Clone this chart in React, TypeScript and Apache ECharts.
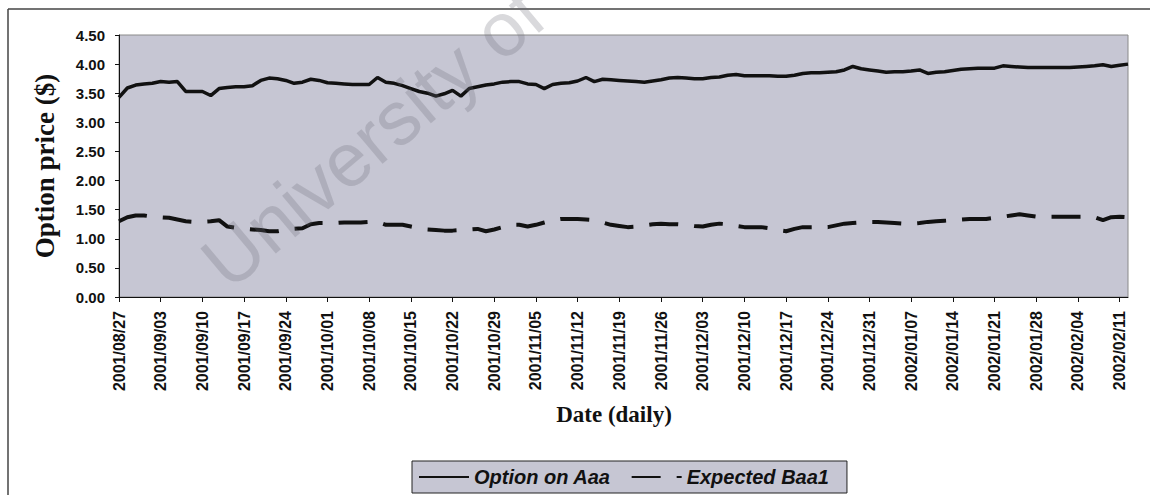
import React, { useEffect, useRef } from "react";
import * as echarts from "echarts";

// Weekday trading dates 2001/08/27 .. 2002/02/12
const START_DATE = "2001-08-27";
const END_DATE = "2002-02-12";

const optionOnAaa: number[] = [
  3.43, 3.59, 3.64, 3.66, 3.67, 3.70, 3.69, 3.70, 3.53, 3.53,
  3.53, 3.46, 3.58, 3.60, 3.61, 3.61, 3.63, 3.72, 3.76, 3.75,
  3.72, 3.67, 3.69, 3.74, 3.72, 3.68, 3.67, 3.66, 3.65, 3.65,
  3.65, 3.77, 3.69, 3.67, 3.63, 3.58, 3.53, 3.50, 3.45, 3.49,
  3.55, 3.45, 3.58, 3.61, 3.64, 3.66, 3.69, 3.70, 3.70, 3.66,
  3.65, 3.58, 3.65, 3.67, 3.68, 3.71, 3.77, 3.70, 3.74, 3.73,
  3.72, 3.71, 3.70, 3.69, 3.71, 3.73, 3.76, 3.77, 3.76, 3.75,
  3.75, 3.77, 3.78, 3.81, 3.82, 3.80, 3.80, 3.80, 3.80, 3.79,
  3.79, 3.81, 3.84, 3.85, 3.85, 3.86, 3.87, 3.90, 3.96, 3.92,
  3.90, 3.88, 3.86, 3.87, 3.87, 3.88, 3.90, 3.84, 3.86, 3.87,
  3.89, 3.91, 3.92, 3.93, 3.93, 3.93, 3.97, 3.96, 3.95, 3.94,
  3.94, 3.94, 3.94, 3.94, 3.94, 3.95, 3.96, 3.97, 3.99, 3.96,
  3.98, 4.00,
];

const expectedBaa1: number[] = [
  1.30, 1.37, 1.40, 1.40, 1.38, 1.37, 1.36, 1.33, 1.30, 1.29,
  1.29, 1.30, 1.32, 1.21, 1.19, 1.17, 1.16, 1.15, 1.13, 1.13,
  1.16, 1.17, 1.18, 1.25, 1.27, 1.27, 1.27, 1.28, 1.28, 1.28,
  1.29, 1.29, 1.24, 1.24, 1.24, 1.21, 1.18, 1.16, 1.15, 1.14,
  1.14, 1.15, 1.16, 1.17, 1.13, 1.16, 1.20, 1.24, 1.24, 1.21,
  1.24, 1.28, 1.32, 1.34, 1.34, 1.34, 1.33, 1.32, 1.28, 1.24,
  1.22, 1.20, 1.21, 1.23, 1.25, 1.26, 1.25, 1.25, 1.24, 1.22,
  1.21, 1.24, 1.26, 1.25, 1.22, 1.20, 1.20, 1.20, 1.18, 1.15,
  1.13, 1.17, 1.20, 1.20, 1.20, 1.20, 1.23, 1.26, 1.27, 1.28,
  1.29, 1.29, 1.28, 1.27, 1.26, 1.26, 1.27, 1.29, 1.30, 1.31,
  1.32, 1.33, 1.34, 1.34, 1.34, 1.36, 1.38, 1.40, 1.42, 1.40,
  1.38, 1.38, 1.38, 1.38, 1.38, 1.38, 1.38, 1.37, 1.32, 1.37,
  1.38, 1.37,
];

const SERIES_NAMES = ["Option on Aaa", "Expected Baa1"];
const Y_TITLE = "Option price ($)";
const X_TITLE = "Date (daily)";
const WATERMARK = "University of";

function weekdayDates(start: string, end: string): string[] {
  const out: string[] = [];
  const d = new Date(start + "T00:00:00Z");
  const e = new Date(end + "T00:00:00Z");
  while (d.getTime() <= e.getTime()) {
    const wd = d.getUTCDay();
    if (wd !== 0 && wd !== 6) {
      const y = d.getUTCFullYear();
      const m = String(d.getUTCMonth() + 1).padStart(2, "0");
      const dd = String(d.getUTCDate()).padStart(2, "0");
      out.push(`${y}/${m}/${dd}`);
    }
    d.setUTCDate(d.getUTCDate() + 1);
  }
  return out;
}

const dates = weekdayDates(START_DATE, END_DATE);

const PLOT_BG = "#c6c6d3";
const SANS = "'Liberation Sans', Arial, sans-serif";
const SERIF = "'Liberation Serif', 'Times New Roman', serif";

export default function App() {
  const ref = useRef<HTMLDivElement>(null);

  useEffect(() => {
    if (!ref.current) return;
    const chart = echarts.init(ref.current, null, { renderer: "svg" });
    chart.setOption({
      animation: false,
      backgroundColor: "#ffffff",
      grid: {
        left: 119,
        top: 35,
        right: 22,
        bottom: 198,
        show: true,
        backgroundColor: PLOT_BG,
        borderColor: "#8a8a8a",
        borderWidth: 1,
        containLabel: false,
      },
      legend: {
        left: 412,
        top: 461,
        padding: [6, 18, 6, 6],
        itemGap: 20,
        itemWidth: 50,
        itemHeight: 14,
        backgroundColor: PLOT_BG,
        borderColor: "#222",
        borderWidth: 1,
        borderRadius: 0,
        data: SERIES_NAMES,
        itemStyle: { color: "transparent", borderWidth: 0, opacity: 0 },
        textStyle: {
          fontFamily: SANS,
          fontStyle: "italic",
          fontWeight: "bold",
          fontSize: 20,
          color: "#111",
        },
      },
      xAxis: {
        type: "category",
        data: dates,
        boundaryGap: false,
        axisLine: { show: true, lineStyle: { color: "#111", width: 1 } },
        axisTick: { show: true, interval: 4, length: 5, lineStyle: { color: "#111" } },
        axisLabel: {
          interval: 4,
          rotate: 90,
          margin: 14,
          fontFamily: SANS,
          fontWeight: "bold",
          fontSize: 16,
          color: "#111",
        },
        splitLine: { show: false },
      },
      yAxis: {
        type: "value",
        min: 0,
        max: 4.5,
        interval: 0.5,
        axisLine: { show: true, lineStyle: { color: "#111", width: 1 } },
        axisTick: { show: true, length: 4, lineStyle: { color: "#111" } },
        axisLabel: {
          margin: 14,
          fontFamily: SANS,
          fontWeight: "bold",
          fontSize: 15,
          color: "#111",
          formatter: (v: number) => v.toFixed(2),
        },
        splitLine: { show: false },
      },
      series: [
        {
          name: SERIES_NAMES[0],
          type: "line",
          data: optionOnAaa,
          symbol: "none",
          lineStyle: { color: "#111", width: 3.5, type: "solid" },
          itemStyle: { color: "#111" },
        },
        {
          name: SERIES_NAMES[1],
          type: "line",
          data: expectedBaa1,
          symbol: "none",
          lineStyle: { color: "#111", width: 4, type: [29, 16] },
          itemStyle: { color: "#111" },
        },
      ],
      graphic: [
        {
          type: "line",
          shape: { x1: 8, y1: 9, x2: 1150, y2: 9 },
          style: { stroke: "#444", lineWidth: 1.5 },
        },
        {
          type: "line",
          shape: { x1: 8, y1: 9, x2: 8, y2: 495 },
          style: { stroke: "#444", lineWidth: 1.5 },
        },
        {
          type: "text",
          x: 45,
          y: 166,
          rotation: Math.PI / 2,
          style: {
            text: Y_TITLE,
            fontFamily: SERIF,
            fontWeight: "bold",
            fontSize: 27,
            fill: "#111",
            align: "center",
            verticalAlign: "middle",
          },
        },
        {
          type: "text",
          x: 614,
          y: 414,
          style: {
            text: X_TITLE,
            fontFamily: SERIF,
            fontWeight: "bold",
            fontSize: 23,
            fill: "#111",
            align: "center",
            verticalAlign: "middle",
          },
        },
        {
          type: "text",
          x: 237,
          y: 301,
          rotation: (40 * Math.PI) / 180,
          z: 50,
          style: {
            text: WATERMARK,
            fontFamily: SANS,
            fontSize: 76,
            fill: "rgba(110,110,120,0.26)",
            align: "left",
            verticalAlign: "bottom",
          },
        },
      ],
    });
    return () => chart.dispose();
  }, []);

  return (
    <div
      ref={ref}
      style={{ position: "fixed", left: 0, top: 0, width: 1150, height: 495 }}
    />
  );
}
